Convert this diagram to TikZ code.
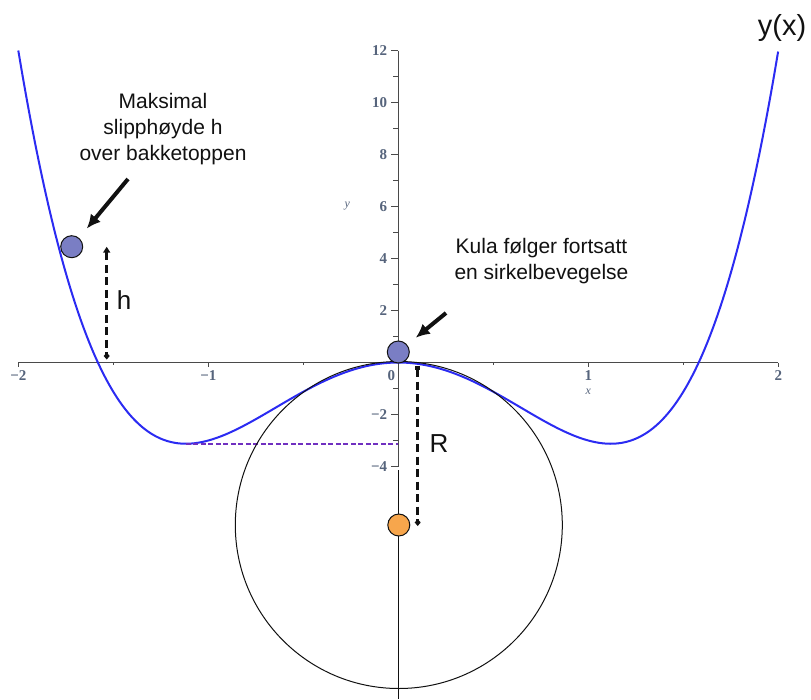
\documentclass[tikz,border=0pt]{standalone}
\usepackage{fontspec}
\setmainfont{Liberation Serif}
\setsansfont{Liberation Sans}
\usetikzlibrary{arrows.meta,positioning,calc}
\definecolor{Ink}{HTML}{111111}
\definecolor{AxisGrey}{HTML}{4A4A4A}
\definecolor{TickInk}{HTML}{56647C}
\definecolor{CurveBlue}{HTML}{2B2BF2}
\definecolor{BallBlue}{HTML}{7A7EC4}
\definecolor{BallOrange}{HTML}{F7A64C}
\definecolor{LevelPurple}{HTML}{7030C0}

\tikzset{
  ball/.style={circle,draw=Ink,line width=1pt,minimum size=22pt,inner sep=0pt},
  note/.style={font=\sffamily\fontsize{21}{26}\selectfont,align=center,text=Ink,inner sep=0pt},
  tag/.style={font=\sffamily\fontsize{26}{30}\selectfont,text=Ink,inner sep=0pt},
  ticklabel/.style={font=\bfseries\fontsize{15}{17}\selectfont,text=TickInk,inner sep=0pt},
  axisname/.style={font=\itshape\fontsize{12}{12}\selectfont,text=TickInk,inner sep=0pt},
  axisline/.style={AxisGrey,line width=0.9pt},
  pointer/.style={-{Latex[length=14pt,width=13pt]},line width=4pt,Ink},
  measure/.style={Ink,line width=3.4pt,dash pattern=on 8pt off 4.5pt}
}

\begin{document}
\begin{tikzpicture}[x=1pt,y=-1pt]
\useasboundingbox (0,0) rectangle (811,699);

% Maple plot of y(x)
\begin{scope}[shift={(398.3,362.5)},x=190pt,y=26pt]
\draw[axisline] (-2,0) -- (2,0);
\draw[axisline] (0,-4) -- (0,12);
\foreach \t in {-2,-1,1,2}
  \draw[axisline] (\t,0) -- ++(0,-4pt);
\foreach \t in {-1.5,-0.5,0.5,1.5}
  \draw[axisline] (\t,0) -- ++(0,-2.5pt);
\foreach \t in {-4,-2,2,4,6,8,10,12}
  \draw[axisline] (0,\t) -- ++(-7.5pt,0);
\foreach \t in {-3,-1,1,3,5,7,9,11}
  \draw[axisline] (0,\t) -- ++(-5pt,0);
\foreach \t/\s in {-4/−4,-2/−2,2/2,4/4,6/6,8/8,10/10,12/12}
  \node[ticklabel,anchor=east,xshift=-11pt] (ytick\t) at (0,\t) {\s};
\foreach \t/\s in {-2/−2,-1/−1,1/1,2/2}
  \node[ticklabel,anchor=north,yshift=-8pt] (xtick\t) at (\t,0) {\s};
\node[ticklabel,anchor=north east,xshift=-3pt,yshift=-8pt] (xtick0) at (0,0) {0};
\node[axisname,yshift=-29pt] (xname) at (1,0) {x};
\node[axisname,xshift=-51pt] (yname) at (0,6) {y};
\draw[CurveBlue,line width=2pt,domain=-2:2,samples=200,smooth]
  plot (\x,{2*\x*\x*\x*\x-5*\x*\x});
\coordinate (valley) at (-1.118,-3.125);
\coordinate (valleyAxis) at (0,-3.125);
\end{scope}

\draw[LevelPurple,line width=1.8pt,dash pattern=on 5pt off 2.5pt] (valley) -- (valleyAxis);

% osculating circle
\coordinate (circleCentre) at (398.8,525);
\coordinate (stemTop) at (398.8,470);
\coordinate (stemEnd) at (398.8,699);
\draw[Ink,line width=1pt] (circleCentre) circle (163.5pt);
\draw[Ink,line width=1.2pt] (stemTop) -- (stemEnd);
\node[ball,fill=BallOrange] (centre) at (circleCentre) {};

% balls and pointers
\node[ball,fill=BallBlue] (crest) at (398.3,352) {};
\node[ball,fill=BallBlue] (drop) at (71.7,246.7) {};
\coordinate (dropTail) at (128,179);
\coordinate (crestTail) at (446,313);
\draw[pointer,shorten >=12pt] (dropTail) -- (drop);
\draw[pointer,shorten >=11pt] (crestTail) -- (crest);

% h and R
\coordinate (hTop) at (106.7,246.7);
\coordinate (hFoot) at (106.7,359.5);
\draw[measure,{Triangle[length=6pt,width=7pt]}-{Diamond[length=7pt,width=6pt]}] (hTop) -- (hFoot);
\coordinate (rTop) at (417.7,366);
\coordinate (rFoot) at (417.7,526);
\draw[measure,{Square[length=4pt,width=5pt]}-{Diamond[length=7pt,width=6pt]}] (rTop) -- (rFoot);
\node[tag] (hLabel) at (124,299.7) {h};
\node[tag] (rLabel) at (439,444) {R};

% texts
\node[note] (dropNote) at (163,129) {Maksimal\\slipphøyde h\\over bakketoppen};
\node[note] (crestNote) at (541.5,260.7) {Kula følger fortsatt\\en sirkelbevegelse};
\node[font=\sffamily\fontsize{29}{33}\selectfont,text=Ink,inner sep=0pt] (yxLabel) at (782,28.5) {y(x)};
\end{tikzpicture}
\end{document}
